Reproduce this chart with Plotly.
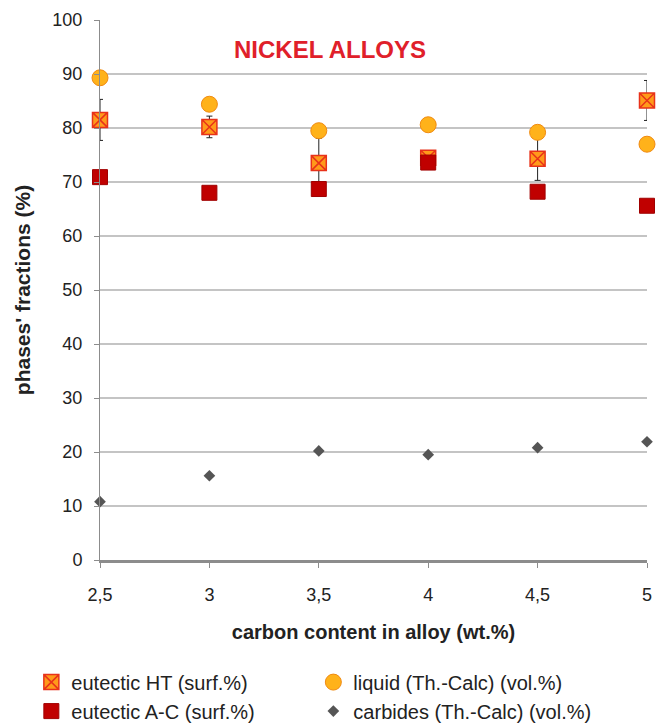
import plotly.graph_objects as go

carbon = [2.5, 3.0, 3.5, 4.0, 4.5, 5.0]
eutectic_ht = [81.5, 80.2, 73.5, 74.5, 74.3, 85.1]
eutectic_ht_err = [3.8, 2.0, 4.6, 1.0, 4.0, 3.7]
liquid = [89.3, 84.4, 79.5, 80.6, 79.2, 77.0]
eutectic_ac = [70.9, 68.0, 68.7, 73.6, 68.2, 65.6]
carbides = [10.8, 15.6, 20.2, 19.5, 20.8, 21.9]

x_ticks = [2.5, 3.0, 3.5, 4.0, 4.5, 5.0]
x_tick_text = ["2,5", "3", "3,5", "4", "4,5", "5"]

FONT = "Liberation Sans, Arial, sans-serif"

fig = go.Figure()
fig.add_trace(go.Scatter(
    x=carbon, y=eutectic_ht, mode="markers", name="eutectic HT (surf.%)",
    marker=dict(symbol="square-x", size=15, color="#FF9A1A",
                line=dict(color="#E8321A", width=1.5)),
    error_y=dict(type="data", array=eutectic_ht_err, visible=True,
                 color="#222222", thickness=1, width=3),
    cliponaxis=False))
fig.add_trace(go.Scatter(
    x=carbon, y=liquid, mode="markers", name="liquid (Th.-Calc) (vol.%)",
    marker=dict(symbol="circle", size=16, color="#FFB21A",
                line=dict(color="#F08A10", width=1)),
    cliponaxis=False))
fig.add_trace(go.Scatter(
    x=carbon, y=eutectic_ac, mode="markers", name="eutectic A-C (surf.%)",
    marker=dict(symbol="square", size=15, color="#C00000",
                line=dict(color="#A00000", width=1)),
    cliponaxis=False))
fig.add_trace(go.Scatter(
    x=carbon, y=carbides, mode="markers", name="carbides (Th.-Calc) (vol.%)",
    marker=dict(symbol="diamond", size=9, color="#555555"),
    cliponaxis=False))

fig.add_annotation(x=3.55, y=94.6, xref="x", yref="y", text="<b>NICKEL ALLOYS</b>",
                   showarrow=False, font=dict(color="#E0202A", size=24, family=FONT))

fig.update_layout(
    width=660, height=723,
    margin=dict(l=100, r=13, t=20, b=163, autoexpand=False),
    paper_bgcolor="white", plot_bgcolor="white",
    font=dict(family=FONT, size=18, color="#222222"),
    showlegend=True,
    legend=dict(orientation="h", x=-0.1255, y=-0.19,
                xanchor="left", yanchor="top",
                entrywidth=237, entrywidthmode="pixels", itemwidth=30,
                font=dict(size=20), tracegroupgap=0, traceorder="normal"),
)
fig.update_xaxes(
    range=[2.5, 5], tickvals=x_ticks, ticktext=x_tick_text,
    showgrid=False, showline=True, linecolor="#8C8C8C", linewidth=3,
    ticks="outside", ticklen=5, tickcolor="#8C8C8C", zeroline=False,
    ticklabelstandoff=11, tickfont=dict(size=18),
    title=dict(text="<b>carbon content in alloy (wt.%)</b>", standoff=22,
               font=dict(size=20)),
)
fig.update_yaxes(
    range=[0, 100], dtick=10, showgrid=True, gridcolor="#C4C4C4", gridwidth=2,
    showline=True, linecolor="#8C8C8C", linewidth=1, zeroline=False,
    ticks="outside", ticklen=5, tickcolor="#8C8C8C", ticklabelstandoff=8,
    tickfont=dict(size=18),
    title=dict(text="<b>phases' fractions (%)</b>", standoff=16, font=dict(size=21)),
)

fig.write_html("out.html", config={"displayModeBar": False},
               post_script="document.body.style.margin='0';document.body.style.overflow='hidden';")
